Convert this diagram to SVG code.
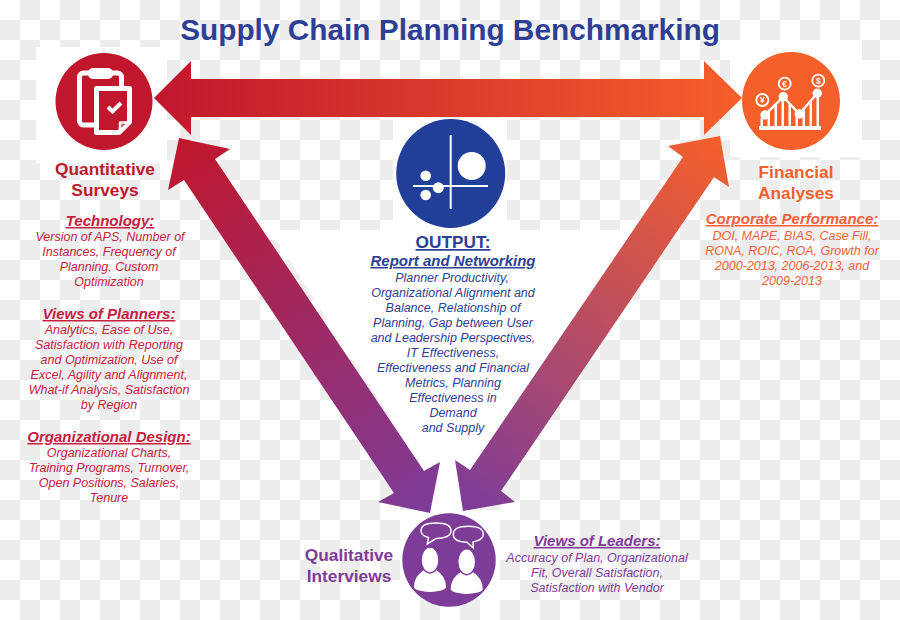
<svg xmlns="http://www.w3.org/2000/svg" width="900" height="620" viewBox="0 0 900 620">
<style>
text{font-family:"Liberation Sans",Arial,sans-serif;text-anchor:middle}
.h{font-weight:bold;font-size:17.3px}
.u{font-style:italic;font-weight:bold;font-size:15px;text-decoration:underline}
.b{font-style:italic;font-size:12.5px}
.r{fill:#c8203f}.o{fill:#f4603a}.n{fill:#2e3f96}.p{fill:#7d3c98}
</style>
<defs>
<pattern id="chk" width="40" height="40" patternUnits="userSpaceOnUse"><rect width="40" height="40" fill="#fff"/><rect x="20" width="20" height="20" fill="#ededed"/><rect y="20" width="20" height="20" fill="#ededed"/></pattern>
<linearGradient id="gh" gradientUnits="userSpaceOnUse" x1="155" y1="0" x2="742" y2="0"><stop offset="0" stop-color="#c0172d"/><stop offset="1" stop-color="#f55f2a"/></linearGradient>
<linearGradient id="gl" gradientUnits="userSpaceOnUse" x1="180" y1="140" x2="430" y2="510"><stop offset="0" stop-color="#c0172d"/><stop offset="1" stop-color="#7d3c98"/></linearGradient>
<linearGradient id="gr" gradientUnits="userSpaceOnUse" x1="725" y1="140" x2="470" y2="510"><stop offset="0" stop-color="#f55f2a"/><stop offset="1" stop-color="#7d3c98"/></linearGradient>
</defs>
<rect width="900" height="620" fill="url(#chk)"/>
<g id="white-panels" fill="#fff">
<rect x="36" y="47" width="131" height="116"/>
<rect x="730" y="40" width="132" height="117"/>
<rect x="393" y="118" width="114" height="112"/>
<path d="M270 230H635L465 490 463 515H430V480Z"/>
<rect x="400" y="510" width="100" height="90"/>
</g>
<text x="450" y="40" font-size="29.8" font-weight="bold" fill="#2e3f96">Supply Chain Planning Benchmarking</text>
<g id="connectors">
<path fill="url(#gh)" d="M154 98 191 61V79H704V61L742 98 704 135V117H191V135Z"/>
<path fill="url(#gl)" d="M179 138 230 149 215 159 424 471 440 462 430 513 378 502 394 493 184 180 168 190Z"/>
<path fill="url(#gr)" d="M720 136 729 187 714 177 501 491 515 502 463 511 455 460 470 470 683 157 668 146Z"/>
</g>
<g id="node-quantitative">
<circle cx="104" cy="101.500" r="48.500" fill="#c0172d"/>
<rect x="79.500" y="73" width="42" height="52" rx="4" fill="none" stroke="#fff" stroke-width="5"/>
<rect x="88" y="68" width="25" height="11" rx="5" fill="#fff"/>
<path d="M96.500 88.500H129.500V122L119 132.500H96.500Z" fill="#c0172d" stroke="#fff" stroke-width="5" stroke-linejoin="round"/>
<path d="M120 131V122.500H129Z" fill="#d9576a" stroke="#fff" stroke-width="2.500" stroke-linejoin="round"/>
<path d="M108 107 112.500 111.500 121 103" fill="none" stroke="#fff" stroke-width="4"/>
<text x="105" y="175" class="h" fill="#c0172d">Quantitative</text>
<text x="105" y="196" class="h" fill="#c0172d">Surveys</text>
</g>
<g id="node-financial">
<circle cx="791" cy="101" r="49" fill="#f55f2a"/>
<g fill="#fff">
<rect x="759" y="126" width="62" height="4"/>
<rect x="760.500" y="118" width="2.500" height="9"/><rect x="767.500" y="111" width="2.500" height="16"/><rect x="774.500" y="104" width="2.500" height="23"/><rect x="781.500" y="97" width="2.500" height="30"/><rect x="788.500" y="104" width="2.500" height="23"/><rect x="795.500" y="111" width="2.500" height="16"/><rect x="802.500" y="108" width="2.500" height="19"/><rect x="809.500" y="100" width="2.500" height="27"/><rect x="816.500" y="93" width="2.500" height="34"/>
<circle cx="765" cy="115" r="4.700"/><circle cx="783.300" cy="96.700" r="4.700"/><circle cx="799.300" cy="114" r="4.700"/><circle cx="817.300" cy="93.300" r="4.700"/>
</g>
<path d="M765 115 783.300 96.700 799.300 114 817.300 93.300" fill="none" stroke="#fff" stroke-width="2.500"/>
<g fill="none" stroke="#fff" stroke-width="1.800"><circle cx="762.300" cy="100" r="6"/><circle cx="784.700" cy="83.700" r="6"/><circle cx="818.300" cy="80.700" r="6"/></g>
<g font-size="8.500" font-weight="bold" fill="#fff"><text x="762.300" y="103">¥</text><text x="784.700" y="86.700">€</text><text x="818.300" y="83.700">$</text></g>
<text x="796" y="178" class="h" fill="#f55f2a">Financial</text>
<text x="796" y="199" class="h" fill="#f55f2a">Analyses</text>
</g>
<g id="node-output">
<circle cx="450.700" cy="173.500" r="54.500" fill="#213f99"/>
<path d="M450.700 135V209M413 186H488" stroke="#fff" stroke-width="2"/>
<g fill="#fff"><circle cx="471.700" cy="166" r="14"/><circle cx="425.700" cy="175.700" r="5.300"/><circle cx="425.700" cy="195" r="5.300"/><circle cx="438.300" cy="187.700" r="5.500"/></g>
<text x="453" y="248" font-size="17.300" font-weight="bold" text-decoration="underline" class="n">OUTPUT:</text>
<text x="453" y="266" class="u n">Report and Networking</text>
<g class="b n">
<text x="452" y="282">Planner Productivity,</text>
<text x="453" y="297">Organizational Alignment and</text>
<text x="453" y="312">Balance, Relationship of</text>
<text x="453" y="327">Planning, Gap between User</text>
<text x="453" y="342">and Leadership Perspectives,</text>
<text x="453" y="357">IT Effectiveness,</text>
<text x="453" y="372">Effectiveness and Financial</text>
<text x="453" y="387">Metrics, Planning</text>
<text x="453" y="402">Effectiveness in</text>
<text x="453" y="417">Demand</text>
<text x="453" y="432">and Supply</text>
</g>
</g>
<g id="node-qualitative">
<circle cx="449" cy="560" r="46.700" fill="#7d3c98"/>
<g fill="#fff">
<path d="M414 587Q414 576 424 570L436 570Q446 576 446 587 446 591 430 592 414 591 414 587Z"/>
<path d="M450.700 589Q450.700 578 460.700 572L472.700 572Q482.700 578 482.700 589 482.700 593 466.700 594 450.700 593 450.700 589Z"/>
</g>
<g fill="#fff" stroke="#7d3c98" stroke-width="1.500">
<ellipse cx="430" cy="560" rx="9" ry="13"/><ellipse cx="466.700" cy="561.700" rx="9" ry="13"/>
</g>
<g fill="none" stroke="#fff" stroke-width="1.500">
<path d="M427.300 544 428.500 537.500Q421 535.500 421 530.700 421 523 436 523 451 523 451 530.700 451 538 436 538.500Z"/>
<path d="M473.300 548 473 542Q483.300 540 483.300 534.300 483.300 526.300 468.300 526.300 453.300 526.300 453.300 534.300 453.300 542 467 542.300Z"/>
</g>
<text x="349" y="561" class="h p">Qualitative</text>
<text x="349" y="582" class="h p">Interviews</text>
</g>
<g id="notes-quantitative" class="b r">
<text x="110" y="226" class="u r">Technology:</text>
<text x="110" y="241">Version of APS, Number of</text>
<text x="109" y="256">Instances, Frequency of</text>
<text x="109" y="271">Planning, Custom</text>
<text x="109" y="286">Optimization</text>
<text x="109" y="319" class="u r">Views of Planners:</text>
<text x="109" y="334">Analytics, Ease of Use,</text>
<text x="109" y="349">Satisfaction with Reporting</text>
<text x="109" y="364">and Optimization, Use of</text>
<text x="109" y="379">Excel, Agility and Alignment,</text>
<text x="109" y="394">What-if Analysis, Satisfaction</text>
<text x="109" y="409">by Region</text>
<text x="109" y="442" class="u r">Organizational Design:</text>
<text x="109" y="457">Organizational Charts,</text>
<text x="109" y="472">Training Programs, Turnover,</text>
<text x="109" y="487">Open Positions, Salaries,</text>
<text x="109" y="502">Tenure</text>
</g>
<g id="notes-financial" class="b o">
<text x="792" y="224" class="u o">Corporate Performance:</text>
<text x="792" y="240">DOI, MAPE, BIAS, Case Fill,</text>
<text x="792" y="255">RONA, ROIC, ROA, Growth for</text>
<text x="792" y="270">2000-2013, 2006-2013, and</text>
<text x="792" y="285">2009-2013</text>
</g>
<g id="notes-qualitative" class="b p">
<text x="597" y="546" class="u p">Views of Leaders:</text>
<text x="597" y="562">Accuracy of Plan, Organizational</text>
<text x="597" y="577">Fit, Overall Satisfaction,</text>
<text x="597" y="592">Satisfaction with Vendor</text>
</g>
</svg>
